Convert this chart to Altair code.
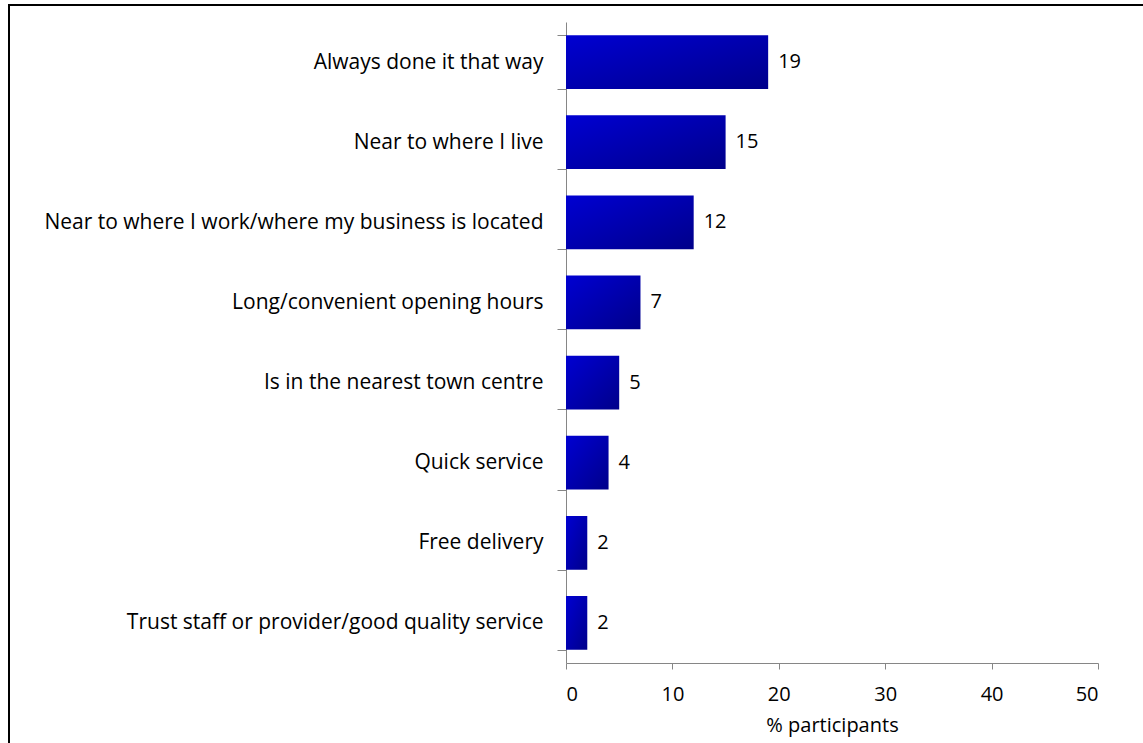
import altair as alt
import pandas as pd

categories = [
    "Always done it that way",
    "Near to where I live",
    "Near to where I work/where my business is located",
    "Long/convenient opening hours",
    "Is in the nearest town centre",
    "Quick service",
    "Free delivery",
    "Trust staff or provider/good quality service",
]
values = [19, 15, 12, 7, 5, 4, 2, 2]
x_ticks = [0, 10, 20, 30, 40, 50]

df = pd.DataFrame({"reason": categories, "pct": values})

FONT = "Open Sans"
FS = 21

y_enc = alt.Y(
    "reason:N",
    sort=categories,
    title=None,
    scale=alt.Scale(paddingInner=0.33, paddingOuter=0.165),
    axis=alt.Axis(
        tickBand="extent",
        domainColor="#868686",
        tickColor="#868686",
        tickSize=9,
        labelPadding=14,
        labelFontSize=FS,
        labelFont=FONT,
        labelColor="black",
        labelLimit=600,
    ),
)

x_enc = alt.X(
    "pct:Q",
    title="% participants",
    scale=alt.Scale(domain=[0, 50], nice=False),
    axis=alt.Axis(
        values=x_ticks,
        grid=False,
        domainColor="#868686",
        tickColor="#868686",
        tickSize=6,
        labelPadding=15,
        labelFontSize=FS - 1,
        labelFont=FONT,
        labelColor="black",
        titleFontSize=FS - 1,
        titleFont=FONT,
        titleFontWeight="normal",
        titleColor="black",
        titlePadding=11,
    ),
)

bars = alt.Chart(df).mark_bar(
    color=alt.Gradient(
        gradient="linear",
        x1=0, y1=0, x2=1, y2=1,
        stops=[
            alt.GradientStop(color="#0000D2", offset=0),
            alt.GradientStop(color="#00008A", offset=1),
        ],
    )
).encode(x=x_enc, y=y_enc)

labels = alt.Chart(df).mark_text(
    align="left", baseline="middle", dx=10, fontSize=FS - 1, font=FONT, color="black"
).encode(x="pct:Q", y=alt.Y("reason:N", sort=categories), text="pct:Q")

frame = alt.Chart(pd.DataFrame({"a": [0]})).mark_rect(
    fill=None, stroke="black", strokeWidth=2
).encode(
    x=alt.value(-557), x2=alt.value(620), y=alt.value(-17), y2=alt.value(800)
)

chart = (
    alt.layer(frame, bars, labels)
    .properties(
        width=532,
        height=641,
        background="white",
        autosize=alt.AutoSizeParams(type="none"),
        padding={"left": 566, "top": 22, "right": 45, "bottom": 80},
    )
    .configure_view(stroke="transparent", strokeWidth=0)
)

chart.save("out.html", embed_options={"renderer": "svg", "actions": False})
